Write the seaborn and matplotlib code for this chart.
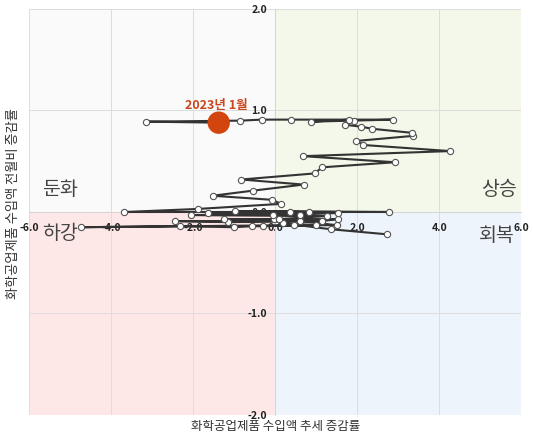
import matplotlib
matplotlib.use("Agg")
import matplotlib.pyplot as plt
import seaborn as sns
import pandas as pd

# 추세 증감률 (x) / 전월비 증감률 (y), 시간 순서, 마지막 점 = 2023년 1월
trend_rate = [
    2.73, 1.35, 0.18, 1.00, -0.31, -0.58, -1.00, -2.32, -4.75, 0.46,
    1.50, 0.60, -1.15, -2.44, 1.13, 1.52, -1.25, -0.03, 0.10, 1.25,
    -2.05, 0.60, -0.06, 1.54, -1.64, 0.82, -0.98, 2.78, 0.36, -3.68,
    -1.89, 0.14, -0.08, -1.53, -0.55, 0.69, -0.83, 0.96, 1.14, 2.92,
    0.68, 4.27, 2.15, 1.98, 3.37, 3.33, 2.36, 2.10, 1.69, 1.92,
    1.81, 0.88, 2.86, 0.38, -0.33, -0.85, -3.15, -1.38,
]
mom_rate = [
    -0.22, -0.17, -0.11, -0.13, -0.14, -0.14, -0.15, -0.14, -0.15, -0.13,
    -0.13, -0.09, -0.10, -0.09, -0.09, -0.07, -0.07, -0.07, -0.07, -0.04,
    -0.03, -0.03, -0.03, -0.01, -0.01, 0.00, 0.01, 0.00, 0.00, 0.00,
    0.03, 0.08, 0.12, 0.16, 0.21, 0.27, 0.32, 0.38, 0.44, 0.49,
    0.55, 0.60, 0.66, 0.70, 0.75, 0.78, 0.82, 0.84, 0.86, 0.90,
    0.91, 0.89, 0.91, 0.91, 0.91, 0.90, 0.89, 0.88,
]
last_label = "2023년 1월"

x_ticks = [-6, -4, -2, 0, 2, 4, 6]
y_ticks = [-2, -1, 0, 1, 2]
quadrant_names = ["둔화", "상승", "하강", "회복"]

df = pd.DataFrame({"trend": trend_rate, "mom": mom_rate})

sns.set_theme(style="white")
plt.rcParams["font.family"] = ["Noto Sans CJK KR", "DejaVu Sans"]

fig = plt.figure(figsize=(5.33, 4.38), dpi=100)
ax = fig.add_axes([0.055, 0.0525, 0.923, 0.927])
ax.set_xlim(-6, 6)
ax.set_ylim(-2, 2)

# 사분면 배경
ax.axhspan(0, 2, xmin=0, xmax=0.5, color="#fafafa", zorder=0)
ax.axhspan(0, 2, xmin=0.5, xmax=1, color="#f3f8ea", zorder=0)
ax.axhspan(-2, 0, xmin=0, xmax=0.5, color="#fde7e7", zorder=0)
ax.axhspan(-2, 0, xmin=0.5, xmax=1, color="#eef4fc", zorder=0)

ax.set_xticks(x_ticks)
ax.set_yticks(y_ticks)
ax.set_xticklabels([f"{v:.1f}" for v in x_ticks])
ax.set_yticklabels([f"{v:.1f}" for v in y_ticks])
ax.grid(True, color="#dddddd", linewidth=0.7, zorder=1)
ax.set_axisbelow(True)

for side in ["top", "right"]:
    ax.spines[side].set_visible(False)
ax.spines["left"].set_position(("data", 0))
ax.spines["bottom"].set_position(("data", 0))
ax.spines["left"].set_color("#d5d5d5")
ax.spines["bottom"].set_color("#d5d5d5")
ax.spines["left"].set_linewidth(0.7)
ax.spines["bottom"].set_linewidth(0.7)
ax.tick_params(axis="both", length=0, labelsize=7.5, colors="#222222")
ax.tick_params(axis="x", pad=8)
ax.tick_params(axis="y", pad=6)
for lab in ax.get_xticklabels() + ax.get_yticklabels():
    lab.set_fontweight("bold")

sns.lineplot(data=df, x="trend", y="mom", sort=False, estimator=None,
             color="#333333", linewidth=1.5, marker="o", markersize=4.5,
             markerfacecolor="white", markeredgecolor="#555555",
             markeredgewidth=0.8, ax=ax, zorder=3)

last = df.iloc[[-1]]
sns.scatterplot(data=last, x="trend", y="mom", s=260, color="#d2450f",
                edgecolor="none", ax=ax, zorder=4)
ax.annotate(last_label, (last["trend"].iloc[0], last["mom"].iloc[0]),
            xytext=(-2, 8), textcoords="offset points", ha="center",
            va="bottom", fontsize=9, fontweight="bold", color="#c8461c")

qpos = [(-5.25, 0.22), (5.46, 0.22), (-5.25, -0.21), (5.40, -0.23)]
for name, (qx, qy) in zip(quadrant_names, qpos):
    ax.text(qx, qy, name, ha="center", va="center", fontsize=14,
            color="#444444", fontweight="medium")

ax.set_xlabel("화학공업제품 수입액 추세 증감률", fontsize=9, color="#333333")
ax.set_ylabel("화학공업제품 수입액 전월비 증감률", fontsize=9.5, color="#333333")
ax.xaxis.set_label_coords(0.5, -0.012)
ax.yaxis.set_label_coords(-0.018, 0.52)

fig.savefig("out.png", dpi=100)
